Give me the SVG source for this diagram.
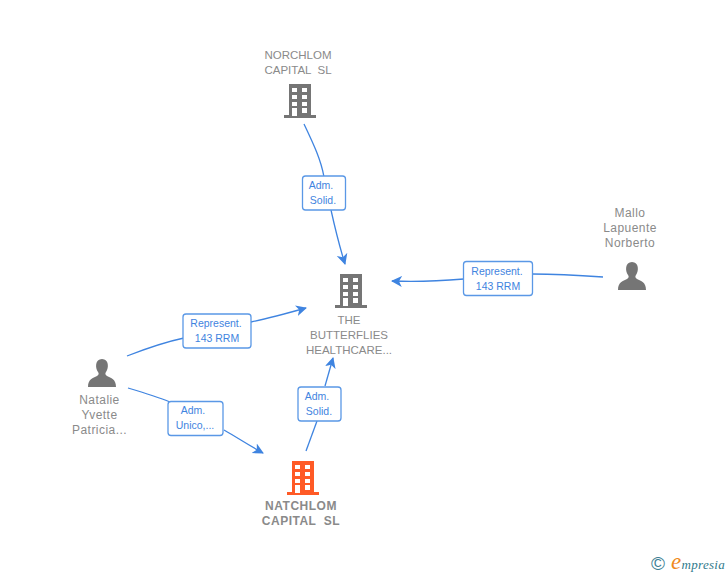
<svg xmlns="http://www.w3.org/2000/svg" width="728" height="575" viewBox="0 0 728 575">
<style>
.t{font-family:"Liberation Sans",Arial,sans-serif;font-size:11.5px;fill:#8a8a8a;text-anchor:middle;white-space:pre}
.p{font-size:12px;letter-spacing:.45px}
.b{font-weight:bold;font-size:12px;letter-spacing:.5px}
.l{font-family:"Liberation Sans",Arial,sans-serif;font-size:10.500px;fill:#3f84e0;text-anchor:middle}
.c{fill:none;stroke:#3f84e0;stroke-width:1.3}
.box{fill:#fff;stroke:#5a98e6;stroke-width:1.3}
.w{fill:#fff}
</style>
<defs>
<marker id="a" viewBox="0 0 12 12" refX="10" refY="6" markerWidth="12" markerHeight="12" markerUnits="userSpaceOnUse" orient="auto"><path d="M0 0.500 L11 6 L0 11.500 L3 6Z" fill="#3f84e0"/></marker>
<g id="bld"><path d="M-11 -17H11V14H16V17H-16V14H-11Z"/><g class="w"><rect x="-8" y="-13" width="5" height="4"/><rect x="2" y="-13" width="5" height="4"/><rect x="-8" y="-6" width="5" height="4"/><rect x="2" y="-6" width="5" height="4"/><rect x="-8" y="1" width="5" height="4"/><rect x="2" y="1" width="5" height="4"/><rect x="-8" y="7" width="5" height="8"/><rect x="2" y="7" width="5" height="5"/></g></g>
<path id="per" d="M-14 14C-14 6 -9 5 -5 3C-3 2 -3 0 -4 -1C-7 -5 -7 -14 0 -14C7 -14 7 -5 4 -1C3 0 3 2 5 3C9 5 14 6 14 14Z"/>
</defs>
<g id="connectors">
<path class="c" d="M304 124C314 145 321 160 324 177"/>
<path class="c" marker-end="url(#a)" d="M331 210C335 228 340 248 345 264"/>
<path class="c" d="M603 277C575 275 555 274 532 274"/>
<path class="c" marker-end="url(#a)" d="M464 279C440 281 415 282 392 281"/>
<path class="c" d="M127 356C145 349 165 342 184 338"/>
<path class="c" marker-end="url(#a)" d="M251 322C270 318 288 313 306 308"/>
<path class="c" d="M128 388C145 393 158 397 170 402"/>
<path class="c" marker-end="url(#a)" d="M224 430C238 438 250 446 263 453"/>
<path class="c" d="M306 451L317 421"/>
<path class="c" marker-end="url(#a)" d="M325 386L333 358"/>
</g>
<g id="edge-labels">
<g><rect class="box" x="302.500" y="176" width="43" height="34" rx="3"/><text class="l" x="321" y="189">Adm.</text><text class="l" x="323" y="204">Solid.</text></g>
<g><rect class="box" x="463.500" y="261.500" width="69" height="34" rx="3"/><text class="l" x="497" y="275">Represent.</text><text class="l" x="498" y="290">143 RRM</text></g>
<g><rect class="box" x="183" y="314" width="68" height="34" rx="3"/><text class="l" x="216" y="327">Represent.</text><text class="l" x="217" y="342">143 RRM</text></g>
<g><rect class="box" x="168" y="401.500" width="55" height="34" rx="3"/><text class="l" x="193" y="414">Adm.</text><text class="l" x="195" y="429">Unico,...</text></g>
<g><rect class="box" x="298" y="387" width="43" height="34" rx="3"/><text class="l" x="317" y="400">Adm.</text><text class="l" x="319" y="415">Solid.</text></g>
</g>
<g id="node-norchlom"><text class="t" x="298" y="59">NORCHLOM</text><text class="t" x="298" y="74">CAPITAL  SL</text><use href="#bld" x="300" y="101" fill="#757575"/></g>
<g id="node-butterflies"><use href="#bld" x="351" y="291" fill="#757575"/><text class="t" x="349" y="324">THE</text><text class="t" x="349" y="339">BUTTERFLIES</text><text class="t" x="349" y="354">HEALTHCARE...</text></g>
<g id="node-mallo"><text class="t p" x="630" y="217">Mallo</text><text class="t p" x="630" y="232">Lapuente</text><text class="t p" x="630" y="247">Norberto</text><use href="#per" x="632" y="276" fill="#757575"/></g>
<g id="node-natalie"><use href="#per" x="102" y="373" fill="#757575"/><text class="t p" x="99.500" y="404">Natalie</text><text class="t p" x="99.500" y="419">Yvette</text><text class="t p" x="99.500" y="434">Patricia...</text></g>
<g id="node-natchlom"><use href="#bld" x="303" y="478" fill="#ff5a26"/><text class="t b" x="301" y="510">NATCHLOM</text><text class="t b" x="301" y="525">CAPITAL  SL</text></g>
<g id="brand"><text x="658" y="570" style="font-family:'Liberation Sans',sans-serif;font-size:19px;fill:#3d7f95" text-anchor="middle">©</text><text x="671" y="569" style="font-family:'Liberation Serif',serif;font-size:13px;font-style:italic;fill:#2f7a8c;letter-spacing:.3px"><tspan style="font-size:23px;fill:#f08a1d">e</tspan>mpresia</text></g>
</svg>
